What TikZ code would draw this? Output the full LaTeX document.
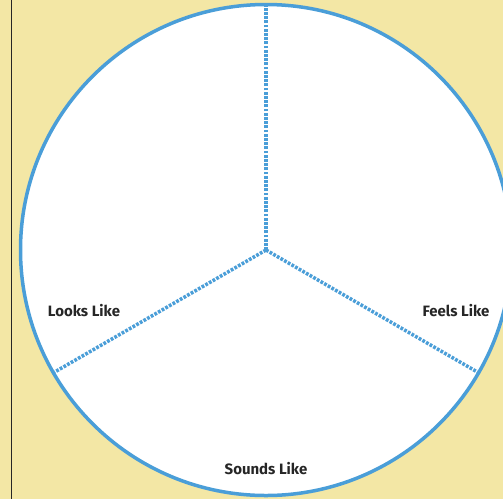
\documentclass[tikz,border=0pt]{standalone}
\usepackage{fontspec}
\setmainfont{Fira Sans}
\usepackage{tikz}
\usetikzlibrary{calc,positioning}
\definecolor{RingBlue}{RGB}{74,158,216}
\definecolor{PageYellow}{RGB}{243,231,165}

\begin{document}
\begin{tikzpicture}[x=1pt,y=-1pt,
  ring/.style={draw=RingBlue,line width=3.5pt,fill=white},
  spoke/.style={draw=RingBlue,line width=3.5pt,dash pattern=on 2.8pt off 1.4pt},
  lbl/.style={font=\fontsize{15}{17}\selectfont\bfseries,text=black!85},
]
\useasboundingbox (0,0) rectangle (503,499);
\clip (0,0) rectangle (503,499);
\fill[PageYellow] (0,0) rectangle (503,499);
\draw[black!85,line width=1pt] (11.5,0) -- (11.5,499);
% the circle and its three parts
\coordinate (hub) at (266,250);
\draw[ring] (hub) circle[radius=245.5pt];
\coordinate (top)   at ($(hub)+(90:244pt)$);
\coordinate (left)  at ($(hub)+(210:244pt)$);
\coordinate (right) at ($(hub)+(330:244pt)$);
\foreach \e in {top,left,right}
  \draw[spoke] (hub) -- (\e);
\node[lbl] (looks)  at (84,311)  {Looks Like};
\node[lbl] (feels)  at (456,311) {Feels Like};
\node[lbl] (sounds) at (266,469) {Sounds Like};
\end{tikzpicture}
\end{document}
